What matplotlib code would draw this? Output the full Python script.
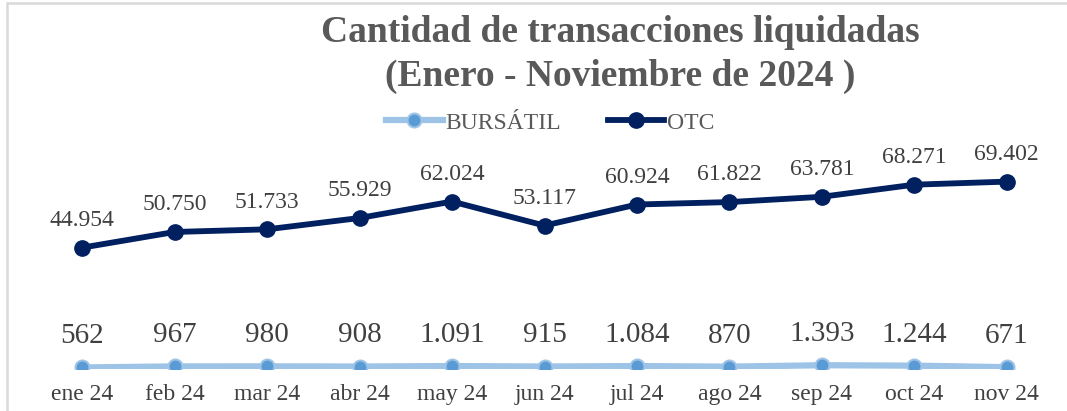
import matplotlib
matplotlib.use("Agg")
import matplotlib.pyplot as plt
from matplotlib.patches import Rectangle
from matplotlib.lines import Line2D

meses = ["ene 24", "feb 24", "mar 24", "abr 24", "may 24", "jun 24",
         "jul 24", "ago 24", "sep 24", "oct 24", "nov 24"]
bursatil = [562, 967, 980, 908, 1091, 915, 1084, 870, 1393, 1244, 671]
otc = [44954, 50750, 51733, 55929, 62024, 53117, 60924, 61822, 63781,
       68271, 69402]

C_OTC = "#002060"
C_BUR_LINE = "#9DC3E6"
C_BUR_MK = "#5B9BD5"
C_TXT = "#404040"

plt.rcParams["font.family"] = ["Liberation Serif", "DejaVu Serif"]


def fmt(v):
    # separador de miles con punto
    return f"{v:,}".replace(",", ".")


fig = plt.figure(figsize=(10.67, 4.11), dpi=100)
fig.patches.append(Rectangle((7 / 1067, -0.1), 1.2, 1.1 - 3 / 411,
                             transform=fig.transFigure, fill=False,
                             edgecolor="#D9D9D9", linewidth=1.8))

ax = fig.add_axes([36 / 1067, 42 / 411, 1017 / 1067, 216 / 411])
x = list(range(len(meses)))

ax.plot(x, bursatil, color=C_BUR_LINE, lw=4.5, marker="o", ms=10,
        mfc=C_BUR_MK, mec=C_BUR_LINE, mew=1.5, solid_capstyle="round",
        zorder=3)
ax.plot(x, otc, color=C_OTC, lw=4.2, marker="o", ms=11, mfc=C_OTC,
        mec=C_OTC, zorder=3)

for xi, v in zip(x, otc):
    ax.annotate(fmt(v), (xi, v), xytext=(0, 12), textcoords="offset points",
                ha="center", va="bottom", fontsize=17, color=C_TXT)
for xi, v in zip(x, bursatil):
    ax.annotate(fmt(v), (xi, v), xytext=(0, 13), textcoords="offset points",
                ha="center", va="bottom", fontsize=21, color=C_TXT)

ax.set_xlim(-0.5, len(meses) - 0.5)
ax.set_ylim(0, 80000)
ax.set_xticks(x)
ax.set_xticklabels(meses, fontsize=17, color=C_TXT)
ax.tick_params(axis="x", length=0, pad=11)
ax.set_yticks([])
for s in ax.spines.values():
    s.set_visible(False)

fig.text(620 / 1067, 1 - 33 / 411, "Cantidad de transacciones liquidadas",
         ha="center", va="center", fontsize=27, fontweight="bold",
         color="#595959")
fig.text(620 / 1067, 1 - 76 / 411, "(Enero - Noviembre de 2024 )",
         ha="center", va="center", fontsize=27, fontweight="bold",
         color="#595959")

handles = [
    Line2D([], [], color=C_BUR_LINE, lw=4.5, marker="o", ms=10,
           mfc=C_BUR_MK, mec=C_BUR_LINE, mew=1.5),
    Line2D([], [], color=C_OTC, lw=4.2, marker="o", ms=11, mfc=C_OTC,
           mec=C_OTC),
]
fig.legend(handles, ["BURSÁTIL", "OTC"], loc="center",
           bbox_to_anchor=(550 / 1067, 1 - 123 / 411), ncol=2, frameon=False,
           fontsize=17, labelcolor="#595959", handlelength=2.4,
           columnspacing=2.0, handletextpad=0.1)

fig.savefig("out.png", dpi=100)
